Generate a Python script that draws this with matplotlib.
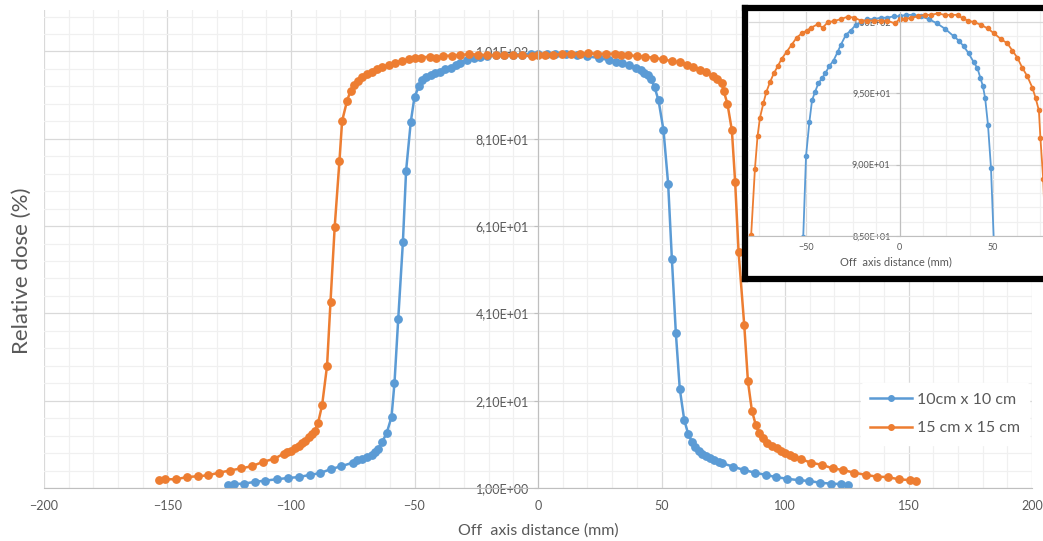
import matplotlib
matplotlib.use("Agg")
import matplotlib.pyplot as plt
import numpy as np
from matplotlib.ticker import FuncFormatter, MultipleLocator, FixedLocator

plt.rcParams['font.family'] = ['Lato', 'DejaVu Sans']

# 10cm x 10 cm profile (mm, %)
x_10 = [-125.6, -123.2, -119.1, -114.7, -110.4, -105.7, -101.2, -96.9, -92.4, -88.3,
        -84.0, -79.6, -75.0, -73.2, -71.2, -69.2, -67.4, -65.8, -64.7, -63.1,
        -61.3, -59.3, -58.1, -56.6, -54.7, -53.4, -51.5, -50.0, -48.2, -46.8,
        -45.2, -43.4, -41.5, -39.7, -37.6, -35.3, -33.1, -31.4, -28.7, -26.1,
        -23.4, -20.7, -17.2, -13.6, -10.1, -6.6, -3.0, 0.0, 3.5, 7.0,
        11.2, 15.6, 20.0, 24.5, 28.9, 31.6, 34.2, 36.9, 39.5, 41.6,
        43.1, 44.5, 45.7, 47.2, 48.8, 50.8, 52.7, 54.2, 55.8, 57.4,
        59.2, 60.8, 62.3, 63.6, 65.0, 66.3, 68.0, 69.6, 71.3, 73.1,
        74.4, 79.0, 83.5, 87.9, 92.3, 96.3, 101.0, 105.5, 109.8, 114.3,
        118.6, 122.7, 125.4]
y_10 = [1.6, 1.9, 2.0, 2.4, 2.7, 3.0, 3.3, 3.5, 4.0, 4.4,
        5.3, 6.0, 6.8, 7.3, 7.6, 8.2, 8.6, 9.2, 9.9, 11.6,
        13.5, 17.3, 25.1, 39.6, 57.3, 73.7, 84.9, 90.6, 93.0, 94.5,
        95.1, 95.7, 96.05, 96.4, 96.9, 97.3, 97.9, 98.4, 99.1, 99.4,
        99.8, 100.0, 100.2, 100.2, 100.3, 100.3, 100.4, 100.4, 100.5, 100.5,
        100.4, 100.2, 99.9, 99.5, 99.0, 98.7, 98.3, 97.8, 97.2, 96.75,
        96.1, 95.5, 94.65, 92.8, 89.8, 83.0, 70.6, 53.5, 36.6, 23.7,
        16.6, 13.4, 11.6, 10.5, 9.5, 8.9, 8.3, 7.8, 7.4, 7.0,
        6.7, 5.9, 5.1, 4.5, 4.0, 3.5, 3.1, 2.8, 2.6, 2.2,
        2.0, 1.9, 1.6]

# 15 cm x 15 cm profile (mm, %)
x_15 = [-153.6, -151.2, -146.6, -142.1, -137.7, -133.6, -129.3, -124.8, -120.1, -115.8,
        -111.3, -106.7, -102.9, -101.6, -99.8, -98.2, -96.9, -95.5, -94.2, -92.8,
        -91.5, -90.4, -89.0, -87.4, -85.4, -84.0, -82.3, -80.4, -79.3, -77.3,
        -75.9, -74.6, -72.8, -71.2, -69.2, -67.2, -65.1, -63.1, -60.4, -57.7,
        -55.0, -52.3, -49.6, -47.3, -43.8, -41.1, -38.4, -34.9, -31.4, -27.8,
        -24.3, -20.7, -17.2, -13.6, -10.1, -6.6, -2.6, 0.0, 2.7, 6.2,
        9.8, 13.4, 16.9, 20.4, 24.0, 27.5, 31.0, 33.7, 36.4, 39.9,
        43.5, 47.0, 50.5, 54.1, 57.6, 60.2, 62.9, 65.5, 68.2, 70.9,
        72.6, 74.4, 75.2, 76.7, 78.5, 79.8, 81.2, 83.5, 85.0, 86.6,
        88.2, 89.6, 91.2, 92.9, 94.7, 96.6, 98.3, 100.1, 102.0, 103.7,
        106.5, 110.5, 115.0, 119.3, 123.6, 128.1, 132.8, 137.1, 141.6, 146.0,
        150.6, 153.1]
y_15 = [2.8, 3.0, 3.0, 3.5, 3.7, 3.9, 4.5, 5.0, 5.5, 6.0,
        7.0, 7.7, 8.9, 9.2, 9.5, 10.1, 10.6, 11.2, 11.8, 12.6,
        13.4, 14.1, 16.0, 20.0, 29.0, 43.7, 60.9, 75.8, 85.1, 89.7,
        92.0, 93.3, 94.3, 95.1, 95.8, 96.4, 96.9, 97.4, 97.9, 98.4,
        98.9, 99.2, 99.4, 99.6, 99.84, 99.6, 99.98, 100.07, 100.2, 100.37,
        100.3, 100.1, 100.1, 100.1, 100.1, 100.1, 99.9, 100.2, 100.2, 100.3,
        100.4, 100.5, 100.5, 100.6, 100.5, 100.5, 100.5, 100.25, 100.1, 99.98,
        99.8, 99.55, 99.2, 98.8, 98.5, 98.0, 97.5, 96.8, 96.2, 95.4,
        94.7, 93.8, 91.9, 89.0, 82.9, 71.2, 55.1, 38.3, 25.4, 18.7,
        15.4, 13.5, 12.4, 11.4, 10.6, 10.1, 9.5, 9.1, 8.6, 8.2,
        7.6, 6.8, 6.3, 5.5, 5.1, 4.5, 4.0, 3.6, 3.5, 3.0,
        2.8, 2.7]

labels = ['10cm x 10 cm', '15 cm x 15 cm']
main_yticks = [1, 21, 41, 61, 81, 101]
inset_yticks = [85, 90, 95, 100]

blue = '#5B9BD5'
orange = '#ED7D31'
txt = '#595959'
W, H = 1043, 541


def sci_comma(v, pos=None):
    return f"{v:.2E}".replace('.', ',')


def style_axes(ax, fs):
    ax.spines['top'].set_visible(False)
    ax.spines['right'].set_visible(False)
    ax.spines['left'].set_position(('data', 0))
    ax.spines['left'].set_color('#bfbfbf')
    ax.spines['bottom'].set_color('#bfbfbf')
    ax.yaxis.set_major_formatter(FuncFormatter(sci_comma))
    ax.tick_params(axis='both', which='major', colors='#bfbfbf', labelcolor=txt,
                   labelsize=fs, length=3)
    ax.tick_params(axis='both', which='minor', length=0)
    ax.grid(True, which='major', color='#d9d9d9', lw=0.9)
    ax.grid(True, which='minor', color='#f0f0f0', lw=0.9)
    ax.set_axisbelow(True)
    ax.patch.set_alpha(0)


fig = plt.figure(figsize=(W / 100, H / 100), dpi=100)

# main chart
ax = fig.add_axes([44 / W, (H - 488) / H, 988 / W, 478 / H])
ax.plot(x_10, y_10, color=blue, lw=1.8, marker='o', ms=5.3, label=labels[0])
ax.plot(x_15, y_15, color=orange, lw=1.8, marker='o', ms=5.3, label=labels[1])
ax.set_xlim(-200, 200)
ax.set_ylim(1, 110.5)
ax.set_yticks(main_yticks)
ax.xaxis.set_major_locator(MultipleLocator(50))
ax.xaxis.set_minor_locator(MultipleLocator(10))
ax.yaxis.set_minor_locator(FixedLocator(np.arange(1, 111, 4)))
style_axes(ax, 9)
ax.tick_params(axis='x', which='major', length=0, pad=9)
ax.set_xlabel('Off  axis distance (mm)', color=txt, fontsize=11.5, labelpad=8)
fig.text(22 / W, 0.5, 'Relative dose (%)', rotation=90, color=txt,
         fontsize=16, ha='center', va='center')
leg = ax.legend(loc='center', bbox_to_anchor=(0.912, 0.155), frameon=True,
                fontsize=11.5, labelcolor=txt, handlelength=2.6,
                borderpad=0.6, labelspacing=0.9, handletextpad=0.3)
leg.get_frame().set_edgecolor('white')
leg.get_frame().set_facecolor('white')
leg.get_frame().set_alpha(1)
for h in leg.legend_handles:
    h.set_markersize(4)

# inset frame
frame = fig.add_axes([745 / W, (H - 279) / H, 310 / W, 271 / H])
frame.set_xticks([])
frame.set_yticks([])
for s in frame.spines.values():
    s.set_linewidth(4.5)
    s.set_color('black')
frame.set_zorder(3)

# inset chart
ins = fig.add_axes([748 / W, (H - 236) / H, 295 / W, 224 / H])
ins.set_zorder(4)
ins.plot(x_10, y_10, color=blue, lw=1.3, marker='o', ms=3, clip_on=True)
ins.plot(x_15, y_15, color=orange, lw=1.3, marker='o', ms=3, clip_on=True)
ins.set_xlim(-81, 76.6)
ins.set_ylim(85, 100.7)
ins.set_yticks(inset_yticks)
ins.set_xticks([-50, 0, 50])
ins.xaxis.set_minor_locator(MultipleLocator(12.5))
ins.yaxis.set_minor_locator(MultipleLocator(1))
style_axes(ins, 6.5)
ins.tick_params(axis='x', which='major', length=0, pad=5)
ins.set_xlabel('Off  axis distance (mm)', color=txt, fontsize=8, labelpad=3)

fig.savefig('out.png', dpi=100)
